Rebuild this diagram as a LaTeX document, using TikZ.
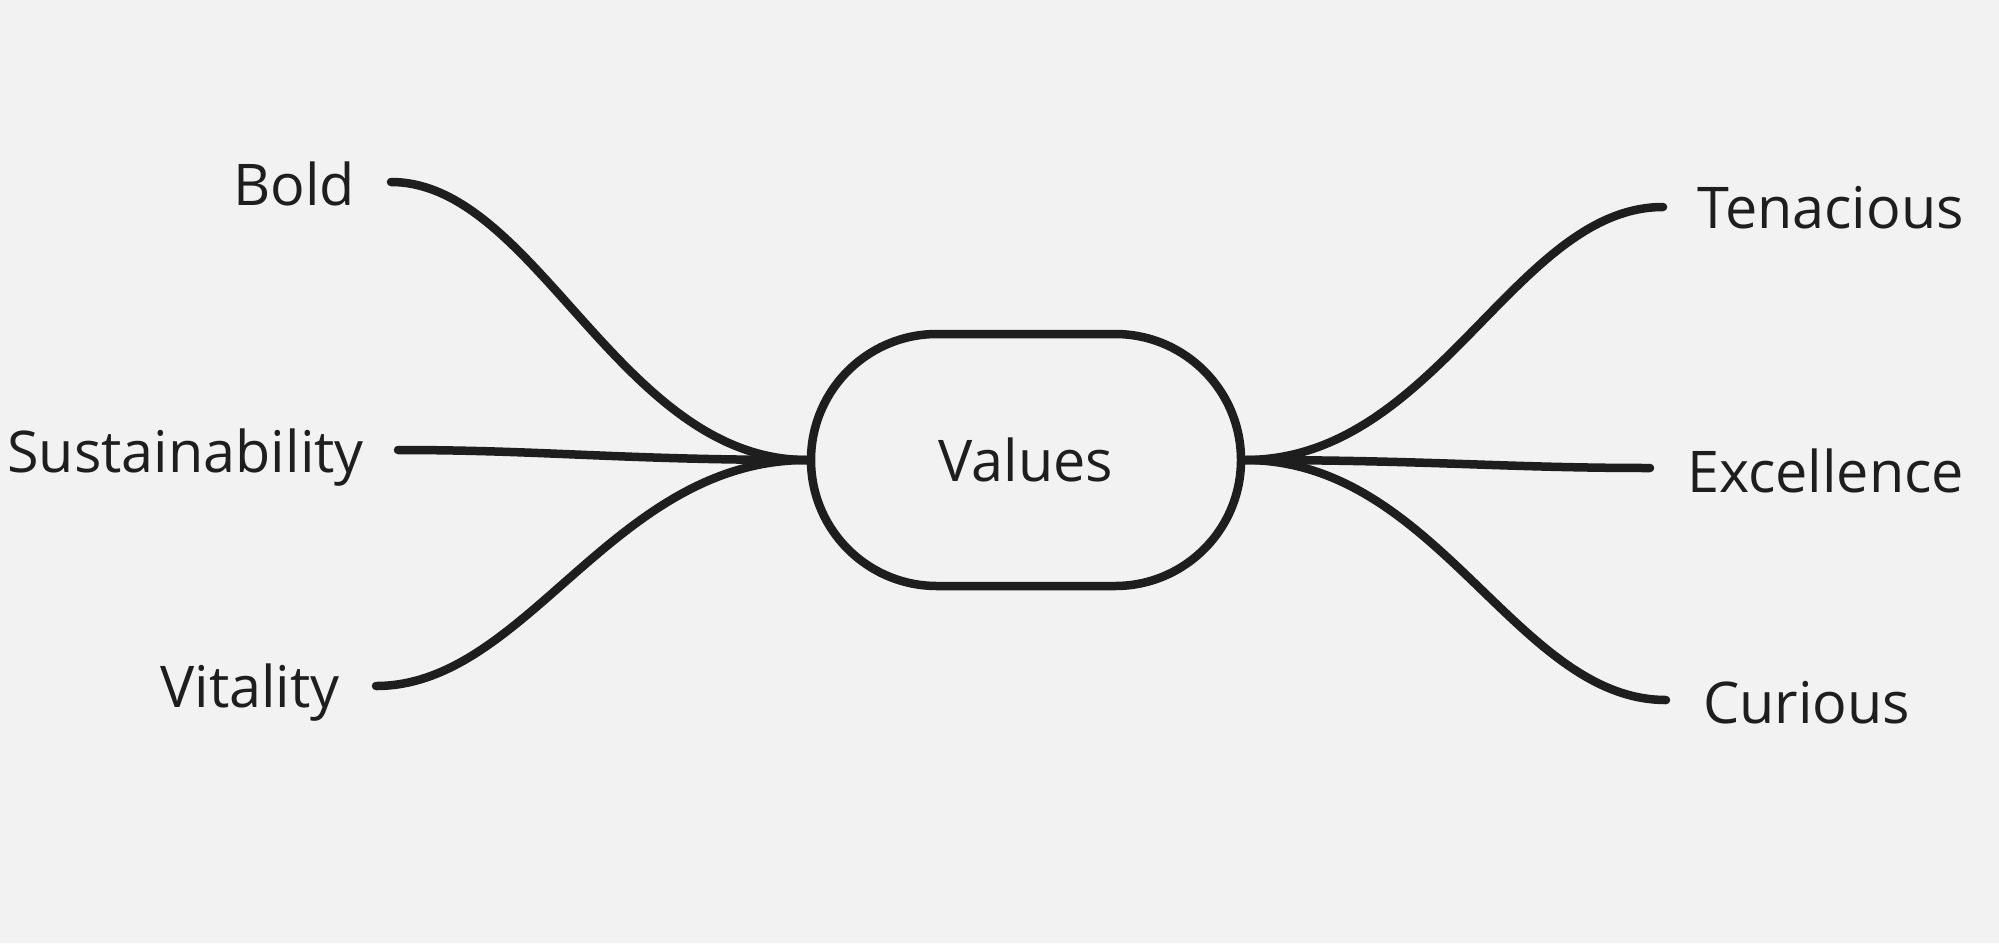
\documentclass[tikz,border=0pt]{standalone}
\usepackage{fontspec}
\setmainfont{Open Sans}
\definecolor{bg}{HTML}{F2F2F2}
\definecolor{ink}{HTML}{1E1E1E}
\begin{document}
\begin{tikzpicture}[x=1pt,y=-1pt,
  lbl/.style={inner sep=0pt, text=ink, font=\fontsize{57.5}{69}\selectfont},
  centre/.style={draw=ink, line width=8.5pt, rounded corners=126pt, minimum width=430pt, minimum height=252pt, inner sep=0pt, text=ink, font=\fontsize{57.5}{69}\selectfont},
  branch/.style={draw=ink, line width=8.5pt, line cap=round}]
\fill[bg] (0,0) rectangle (1999,943);
\useasboundingbox (0,0) rectangle (1999,943);
\node[centre] (v) at (1026,460) {Values};
% free ends
\coordinate (boldend) at (391,182);
\coordinate (susend) at (398,450);
\coordinate (vitend) at (376,686);
\coordinate (tenend) at (1663,207);
\coordinate (excend) at (1650,468);
\coordinate (curend) at (1666,700);
% labels
\node[lbl, anchor=base east] (bold) at (355,205) {Bold};
\node[lbl, anchor=base east] (sus) at (364,472) {Sustainability};
\node[lbl, anchor=base east] (vit) at (340,707) {Vitality};
\node[lbl, anchor=base west] (ten) at (1697,228) {Tenacious};
\node[lbl, anchor=base west] (exc) at (1687,492) {Excellence};
\node[lbl, anchor=base west] (cur) at (1703,723) {Curious};
% connectors
\draw[branch] (v.west) .. controls +(-187,0) and +(145,0) .. (boldend);
\draw[branch] (v.west) .. controls +(-185,0) and +(145,0) .. (susend);
\draw[branch] (v.west) .. controls +(-194,0) and +(151,0) .. (vitend);
\draw[branch] (v.east) .. controls +(191,0) and +(-148,0) .. (tenend);
\draw[branch] (v.east) .. controls +(185,0) and +(-145,0) .. (excend);
\draw[branch] (v.east) .. controls +(192,0) and +(-150,0) .. (curend);
\end{tikzpicture}
\end{document}
